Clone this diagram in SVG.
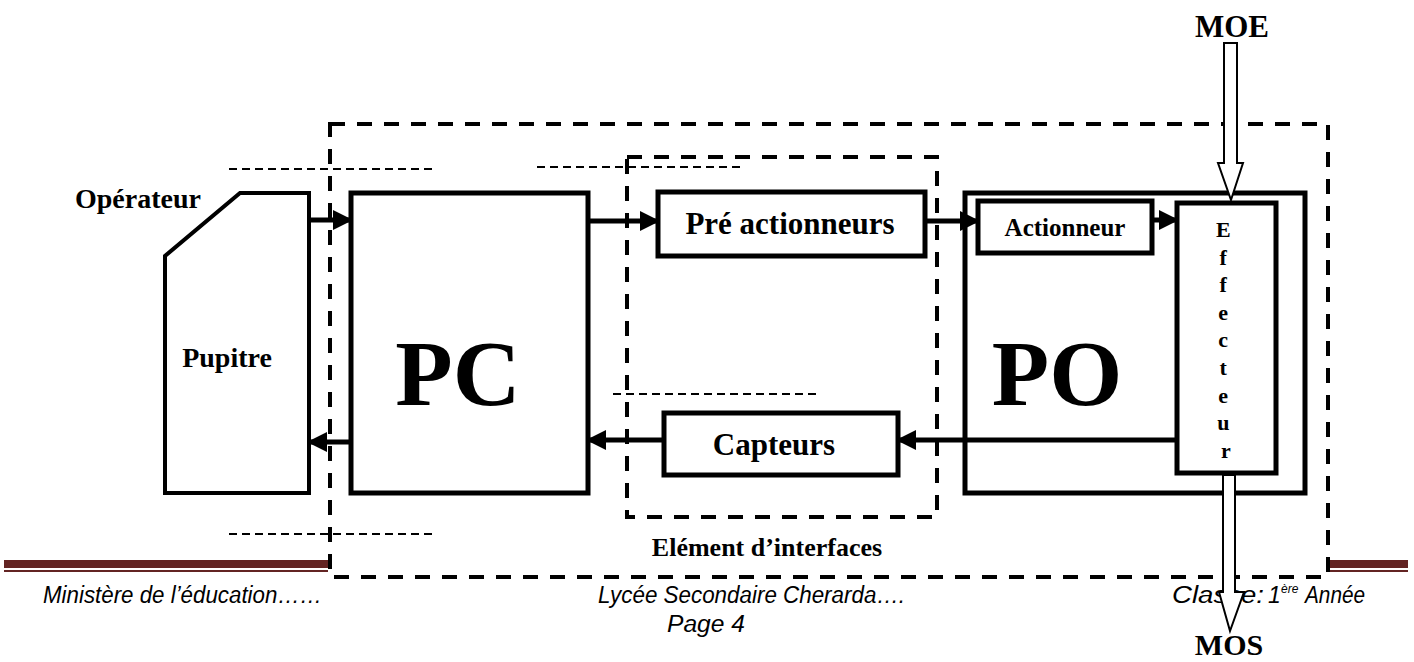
<svg xmlns="http://www.w3.org/2000/svg" width="1414" height="662" viewBox="0 0 1414 662">
<style>
.box{fill:#fff;stroke:#000;stroke-width:5}
.lbl{font-family:"Liberation Serif",serif;font-weight:bold;fill:#000}
.big{stroke:#000;stroke-width:4;fill:none;stroke-dasharray:15 12}
.thin{stroke:#000;stroke-width:2;fill:none;stroke-dasharray:8 5}
.con{stroke:#000;stroke-width:5;fill:none}
.foot{font-family:"Liberation Sans",sans-serif;font-style:italic;fill:#000}
.hollow{fill:#fff;stroke:#000;stroke-width:2}
</style>
<defs>
<marker id="ah" markerWidth="4" markerHeight="4" refX="3.6" refY="2" orient="auto" markerUnits="strokeWidth">
<path d="M0,0 L4,2 L0,4 z" fill="#000"/>
</marker>
</defs>
<rect width="1414" height="662" fill="#fff"/>
<g id="footer-bars">
<rect x="4" y="560" width="324" height="8" fill="#632423"/>
<rect x="4" y="570" width="324" height="2" fill="#632423"/>
<rect x="1330" y="560" width="78" height="8" fill="#632423"/>
<rect x="1330" y="570" width="78" height="2" fill="#632423"/>
</g>
<g id="guides">
<line class="thin" x1="229" y1="169" x2="432" y2="169"/>
<line class="thin" x1="229" y1="534" x2="432" y2="534"/>
<line class="thin" x1="537" y1="167" x2="740" y2="167"/>
<line class="thin" x1="613" y1="394" x2="817" y2="394"/>
</g>
<g id="pupitre">
<polygon class="box" points="240,193 309,193 309,493 165,493 165,256" style="stroke-width:4"/>
<text class="lbl" x="227" y="367" font-size="28" text-anchor="middle">Pupitre</text>
</g>
<g id="operateur">
<text class="lbl" x="75" y="208" font-size="28">Opérateur</text>
</g>
<g id="pc">
<rect class="box" x="351" y="193" width="237" height="300"/>
<text class="lbl" x="458" y="405" font-size="94" text-anchor="middle">PC</text>
</g>
<g id="pre-actionneurs">
<rect class="box" x="658" y="192" width="267" height="64"/>
<text class="lbl" x="790" y="234" font-size="31" text-anchor="middle">Pré actionneurs</text>
</g>
<g id="capteurs">
<rect class="box" x="664" y="413" width="234" height="62"/>
<text class="lbl" x="774" y="455" font-size="31" text-anchor="middle">Capteurs</text>
</g>
<g id="po">
<rect class="box" x="965" y="193" width="340" height="300"/>
<text class="lbl" x="1057" y="405" font-size="94" text-anchor="middle">PO</text>
</g>
<g id="actionneur">
<rect class="box" x="978" y="201" width="174" height="52"/>
<text class="lbl" x="1065" y="236" font-size="25" text-anchor="middle">Actionneur</text>
</g>
<g id="effecteur">
<rect class="box" x="1177" y="203" width="99" height="270"/>
<text class="lbl" font-size="22" text-anchor="middle">
<tspan x="1226" y="237">E</tspan>
<tspan x="1226" y="265">f</tspan>
<tspan x="1226" y="292">f</tspan>
<tspan x="1226" y="320">e</tspan>
<tspan x="1226" y="347">c</tspan>
<tspan x="1226" y="375">t</tspan>
<tspan x="1226" y="403">e</tspan>
<tspan x="1226" y="430">u</tspan>
<tspan x="1226" y="458">r</tspan>
</text>
</g>
<g id="interface">
<rect class="big" x="627" y="157" width="310" height="360"/>
<text class="lbl" x="767" y="556" font-size="26" text-anchor="middle">Elément d’interfaces</text>
</g>
<g id="connectors">
<line class="con" x1="309" y1="220" x2="351" y2="220" marker-end="url(#ah)"/>
<line class="con" x1="351" y1="442" x2="309" y2="442" marker-end="url(#ah)"/>
<line class="con" x1="588" y1="221" x2="658" y2="221" marker-end="url(#ah)"/>
<line class="con" x1="925" y1="221" x2="978" y2="221" marker-end="url(#ah)"/>
<line class="con" x1="1152" y1="220" x2="1177" y2="220" marker-end="url(#ah)"/>
<line class="con" x1="1177" y1="440" x2="898" y2="440" marker-end="url(#ah)"/>
<line class="con" x1="664" y1="440" x2="588" y2="440" marker-end="url(#ah)"/>
</g>
<g id="systeme">
<rect class="big" x="330" y="124" width="998" height="453"/>
</g>
<g id="footer-text">
<text class="foot" x="43" y="603" font-size="23" textLength="279" lengthAdjust="spacingAndGlyphs">Ministère de l’éducation……</text>
<text class="foot" x="598" y="603" font-size="23" textLength="307" lengthAdjust="spacingAndGlyphs">Lycée Secondaire Cherarda….</text>
<text class="foot" x="667" y="632" font-size="23" textLength="78" lengthAdjust="spacingAndGlyphs">Page 4</text>
<text class="foot" x="1172" y="603" font-size="23" textLength="92" lengthAdjust="spacingAndGlyphs">Classe:</text>
<text class="foot" x="1268" y="603" font-size="23">1</text>
<text class="foot" x="1281" y="593" font-size="12">ère</text>
<text class="foot" x="1305" y="603" font-size="23" textLength="60" lengthAdjust="spacingAndGlyphs">Année</text>
</g>
<g id="moe">
<polygon class="hollow" points="1224,43 1237,43 1237,163 1243,163 1231,200 1218,163 1224,163"/>
<text class="lbl" x="1232" y="37" font-size="31" text-anchor="middle">MOE</text>
</g>
<g id="mos">
<polygon class="hollow" points="1223,475 1235,475 1235,592 1244,592 1230,631 1219,592 1223,592"/>
<text class="lbl" x="1229" y="655" font-size="30" text-anchor="middle">MOS</text>
</g>
</svg>
